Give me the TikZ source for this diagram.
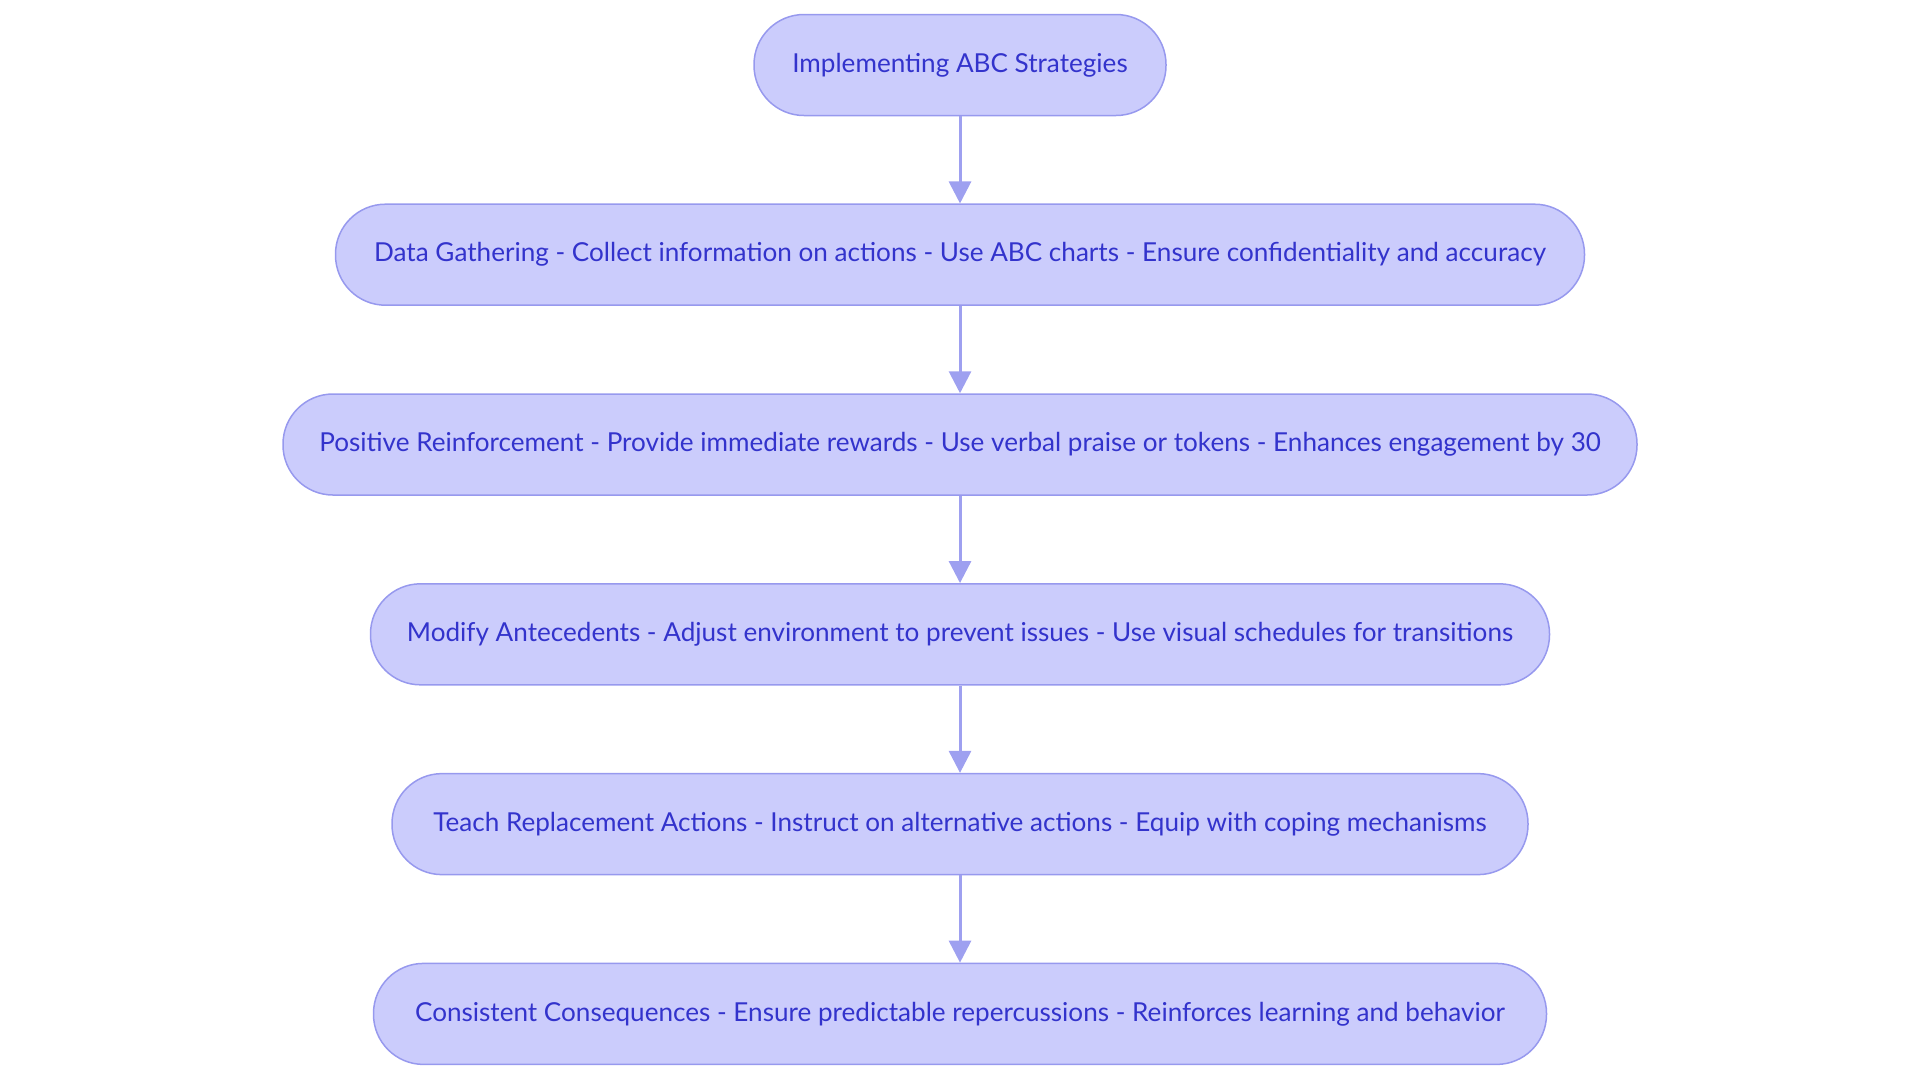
\documentclass[tikz,border=0pt]{standalone}
\usepackage{fontspec}
\setmainfont{Lato}
\usetikzlibrary{arrows.meta}
\definecolor{boxfill}{HTML}{CBCCFC}
\definecolor{boxline}{HTML}{9799EE}
\definecolor{boxtext}{HTML}{3333CC}
\definecolor{linkcol}{HTML}{9EA0F0}
\begin{document}
\begin{tikzpicture}[x=0.5pt, y=-0.5pt,
  phase/.style={draw=boxline, fill=boxfill, line width=0.75pt, text=boxtext,
    rounded corners=25pt, minimum height=50.5pt,
    font=\fontsize{13.05}{15}\selectfont},
  link/.style={draw=linkcol, line width=1.5pt, -{Triangle[width=11pt,length=11pt]}}]
\useasboundingbox (0,0) rectangle (1920,1083);
\node[phase, minimum width=206pt] (impl) at (960,65) {Implementing ABC Strategies};
\node[phase, minimum width=624.5pt] (data) at (960,254.7) {Data Gathering - Collect information on actions - Use ABC charts - Ensure confidentiality and accuracy};
\node[phase, minimum width=677pt] (pos) at (960,444.5) {Positive Reinforcement - Provide immediate rewards - Use verbal praise or tokens - Enhances engagement by 30};
\node[phase, minimum width=589.5pt] (mod) at (960,634.3) {Modify Antecedents - Adjust environment to prevent issues - Use visual schedules for transitions};
\node[phase, minimum width=568pt] (teach) at (960,824.1) {Teach Replacement Actions - Instruct on alternative actions - Equip with coping mechanisms};
\node[phase, minimum width=586.5pt] (cons) at (960,1013.9) {Consistent Consequences - Ensure predictable repercussions - Reinforces learning and behavior};
\draw[link] (impl) -- (data);
\draw[link] (data) -- (pos);
\draw[link] (pos) -- (mod);
\draw[link] (mod) -- (teach);
\draw[link] (teach) -- (cons);
\end{tikzpicture}
\end{document}
